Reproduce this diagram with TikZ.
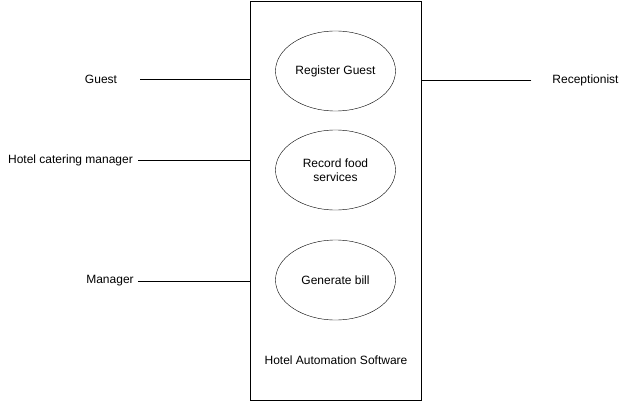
\documentclass[tikz,border=0pt]{standalone}
\usepackage{fontspec}
\setmainfont{Liberation Sans}
\usetikzlibrary{shapes.geometric}
\tikzset{
  usecase/.style={draw,ellipse,minimum width=120pt,minimum height=80pt,inner sep=0pt,align=center,font=\fontsize{12}{14}\selectfont},
  actor/.style={inner ysep=2pt,font=\fontsize{12}{14}\selectfont},
  assoc/.style={line width=0.8pt}
}
\begin{document}
\begin{tikzpicture}[x=1pt,y=-1pt]
  %ramme for hele bildet
	\useasboundingbox (0,0) rectangle (626,401);
  %systemgrense
	\node[draw,minimum width=171pt,minimum height=399pt,inner sep=0pt] (sys) at (335.5,200.5) {};
	\node[font=\fontsize{12}{14}\selectfont] (sysname) at (336,360) {Hotel Automation Software};
	
  %use cases
	\node[usecase] (reg) at (335.5,71) {Register Guest};
	\node[usecase] (food) at (335.5,170) {Record food\\services};
	\node[usecase] (bill) at (335.5,280) {Generate bill};
	
  %aktører
	\node[actor,inner xsep=23pt] (guest) at (101,79) {Guest};
	\node[actor,inner xsep=5pt] (catering) at (70.5,160) {Hotel catering manager};
	\node[actor,inner xsep=4pt] (manager) at (110,281) {Manager};
	\node[actor,inner xsep=21pt] (recep) at (585.5,80) {Receptionist};
	
  %linjer til systemet
	\draw[assoc] (guest) -- (guest -| sys.west);
	\draw[assoc] (catering) -- (catering -| sys.west);
	\draw[assoc] (manager) -- (manager -| sys.west);
	\draw[assoc] (recep) -- (recep -| sys.east);
\end{tikzpicture}
\end{document}
